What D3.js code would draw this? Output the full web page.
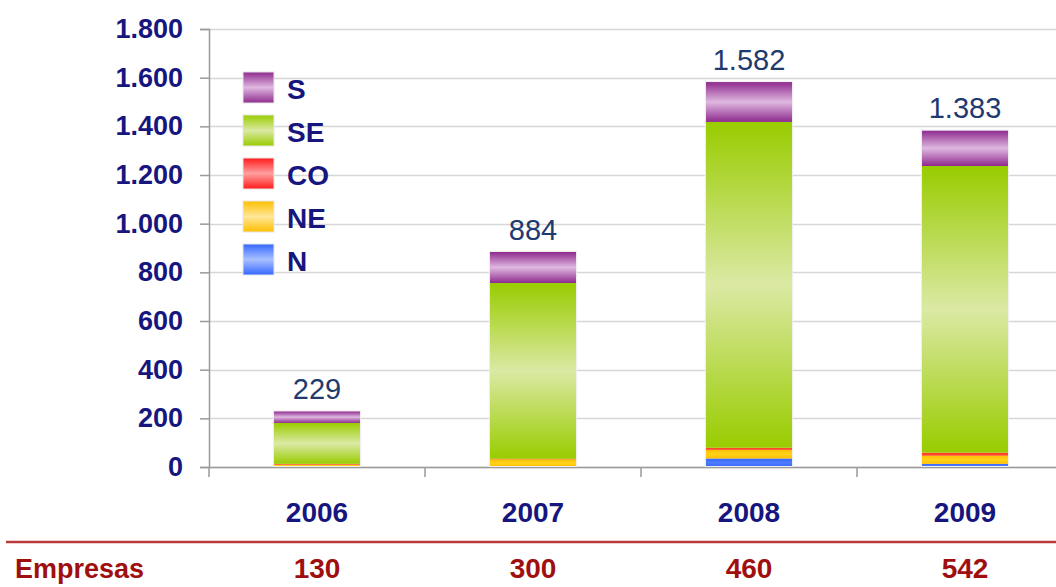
<!DOCTYPE html>
<html>
<head>
<meta charset="utf-8">
<script src="https://cdn.jsdelivr.net/npm/d3@7"></script>
<style>
  body { margin: 0; background: #fff; }
  svg { display: block; font-family: Arial, "Liberation Sans", sans-serif; }
</style>
</head>
<body>
<svg></svg>
<script>
// data
var years = ["2006", "2007", "2008", "2009"];
var regions = ["N", "NE", "CO", "SE", "S"];
var N  = [2, 0, 35, 13];
var NE = [8, 32, 36, 34];
var CO = [3, 2, 8, 12];
var SE = [168, 722, 1339, 1178];
var S  = [48, 128, 164, 146];
var totals = [229, 884, 1582, 1383];
var empresas = [130, 300, 460, 542];
var yTicks = [0, 200, 400, 600, 800, 1000, 1200, 1400, 1600, 1800];

var screen = {width: 1056, height: 587};
var svg = d3.select("svg")
            .attr("width", screen.width)
            .attr("height", screen.height);

var navy = "#16167e";
var darkRed = "#a00f0f";
var fmt = function(v){ return d3.format(",")(v).replace(/,/g, "."); };

// gradients: dark edges, light centre (legend "l", bars "b")
var colors = {
  S:  {edge: "#8e2a8e", mid: "#dfb8df", bar: "#dfb8df"},
  SE: {edge: "#99cc00", mid: "#dbe9a4", bar: "#dbe9a4"},
  CO: {edge: "#ff1a1a", mid: "#ffa0a0", bar: "#ff5a2a"},
  NE: {edge: "#ffc000", mid: "#ffe699", bar: "#ffd21a"},
  N:  {edge: "#3366ff", mid: "#a9c1ff", bar: "#4f7cff"}
};
var defs = svg.append("defs");
regions.forEach(function(r){
  ["l", "b"].forEach(function(kind){
    var g = defs.append("linearGradient")
                .attr("id", kind + r)
                .attr("x1", 0).attr("y1", 0).attr("x2", 0).attr("y2", 1);
    var mid = kind == "l" ? colors[r].mid : colors[r].bar;
    g.append("stop").attr("offset", "0%").attr("stop-color", colors[r].edge);
    g.append("stop").attr("offset", "50%").attr("stop-color", mid);
    g.append("stop").attr("offset", "100%").attr("stop-color", colors[r].edge);
  });
});

//scales
var xScale = d3.scaleBand()
               .domain(years)
               .range([209, 1073])
               .paddingInner(0.6)
               .paddingOuter(0.3);
var step = xScale.step();
var center = function(d){ return xScale(d) + xScale.bandwidth() / 2; };
var yScale = d3.scaleLinear()
               .domain([0, 1800])
               .range([467, 29]);

// gridlines
svg.append("g")
   .selectAll("line")
   .data(yTicks)
   .enter()
   .append("line")
   .attr("x1", 209).attr("x2", 1056)
   .attr("y1", function(d){return Math.round(yScale(d)) + 0.5})
   .attr("y2", function(d){return Math.round(yScale(d)) + 0.5})
   .attr("stroke", "#d6d6d6")
   .attr("stroke-width", 1.5);

//axes
var yAxis = svg.append("g")
               .attr("transform", "translate(209,0)")
               .call(d3.axisLeft(yScale).tickValues(yTicks).tickSize(9).tickPadding(17).tickFormat(fmt));
yAxis.select(".domain").attr("stroke", "#9a9a9a").attr("stroke-width", 1.5);
yAxis.selectAll(".tick line").attr("stroke", "#9a9a9a").attr("stroke-width", 1.5);
yAxis.selectAll("text")
     .attr("fill", navy)
     .style("font-size", "27px")
     .style("font-weight", "bold");

// baseline with tick marks between categories
svg.append("line")
   .attr("x1", 209).attr("x2", 1056)
   .attr("y1", 467.5).attr("y2", 467.5)
   .attr("stroke", "#9a9a9a").attr("stroke-width", 1.5);
svg.append("g")
   .selectAll("line")
   .data(years)
   .enter()
   .append("line")
   .attr("x1", function(d){return center(d) - step / 2})
   .attr("x2", function(d){return center(d) - step / 2})
   .attr("y1", 467).attr("y2", 477)
   .attr("stroke", "#9a9a9a").attr("stroke-width", 1.5);

// stacked bars
var rows = years.map(function(y, i){
  return {year: y, N: N[i], NE: NE[i], CO: CO[i], SE: SE[i], S: S[i]};
});
var stack = d3.stack().keys(regions)(rows);

svg.append("g")
   .selectAll("g")
   .data(stack)
   .enter()
   .append("g")
   .attr("fill", function(d){return "url(#b" + d.key + ")"})
   .selectAll("rect")
   .data(function(d){return d})
   .enter()
   .append("rect")
   .attr("x", function(d){return xScale(d.data.year)})
   .attr("y", function(d){return yScale(d[1])})
   .attr("width", xScale.bandwidth())
   .attr("height", function(d){return yScale(d[0]) - yScale(d[1])});

// thin light outline round each bar
svg.append("g")
   .selectAll("rect")
   .data(years)
   .enter()
   .append("rect")
   .attr("x", function(d){return xScale(d) - 0.5})
   .attr("y", function(d, i){return yScale(totals[i]) - 0.5})
   .attr("width", xScale.bandwidth() + 1)
   .attr("height", function(d, i){return yScale(0) - yScale(totals[i])})
   .attr("fill", "none")
   .attr("stroke", "#eeeeee");

// totals
svg.append("g")
   .selectAll("text")
   .data(years)
   .enter()
   .append("text")
   .attr("x", center)
   .attr("y", function(d, i){return yScale(totals[i]) - 12})
   .attr("text-anchor", "middle")
   .attr("fill", "#1f3a6e")
   .style("font-size", "29px")
   .text(function(d, i){return fmt(totals[i])});

// legend
var legendKeys = ["S", "SE", "CO", "NE", "N"];
var legend = svg.append("g")
                .selectAll("g")
                .data(legendKeys)
                .enter()
                .append("g")
                .attr("transform", function(d, i){return "translate(243," + (72 + i * 43) + ")"});
legend.append("rect")
      .attr("width", 31).attr("height", 31)
      .attr("fill", function(d){return "url(#l" + d + ")"})
      .attr("stroke", "#e6e6e6");
legend.append("text")
      .attr("x", 44).attr("y", 27)
      .attr("fill", navy)
      .style("font-size", "28px")
      .style("font-weight", "bold")
      .text(function(d){return d});

// category labels
svg.append("g")
   .selectAll("text")
   .data(years)
   .enter()
   .append("text")
   .attr("x", center)
   .attr("y", 522)
   .attr("text-anchor", "middle")
   .attr("fill", navy)
   .style("font-size", "28px")
   .style("font-weight", "bold")
   .text(function(d){return d});

// empresas row
svg.append("line")
   .attr("x1", 6).attr("x2", 1056)
   .attr("y1", 542).attr("y2", 542)
   .attr("stroke", "#b83a3a").attr("stroke-width", 2.5);
svg.append("text")
   .attr("x", 15).attr("y", 578)
   .attr("fill", darkRed)
   .style("font-size", "27px")
   .style("font-weight", "bold")
   .text("Empresas");
svg.append("g")
   .selectAll("text")
   .data(years)
   .enter()
   .append("text")
   .attr("x", center)
   .attr("y", 578)
   .attr("text-anchor", "middle")
   .attr("fill", darkRed)
   .style("font-size", "28px")
   .style("font-weight", "bold")
   .text(function(d, i){return empresas[i]});
</script>
</body>
</html>
